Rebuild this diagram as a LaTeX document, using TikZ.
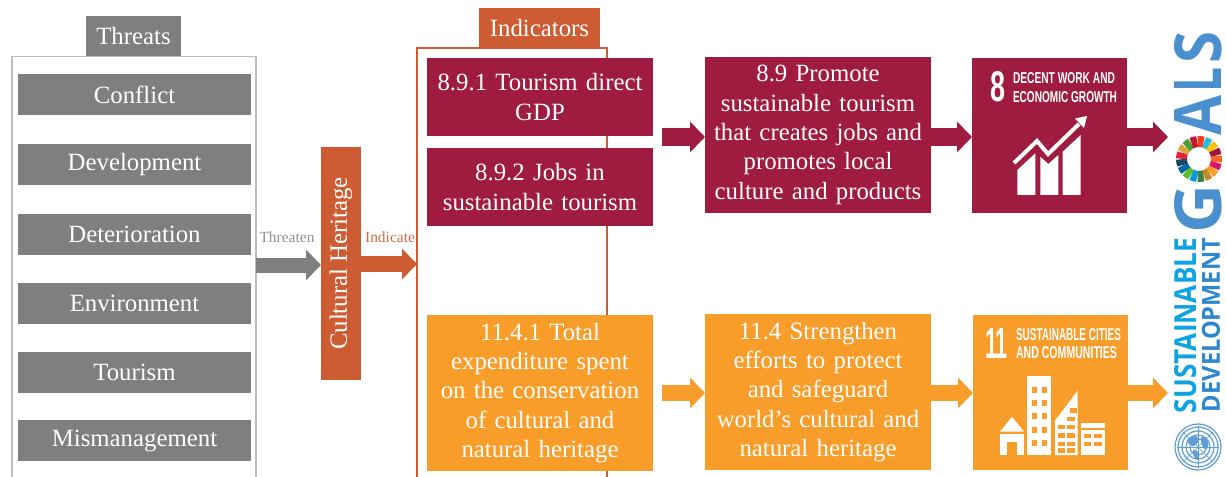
\documentclass[tikz,border=0pt]{standalone}
\usepackage{fontspec}
\setmainfont{Liberation Serif}
\newfontfamily\logofont{Open Sans}
\newfontfamily\sdgfont{Liberation Sans}
\usetikzlibrary{arrows.meta}
\definecolor{cgray}{HTML}{7F7F7F}
\definecolor{cgrayl}{HTML}{BDBDBD}
\definecolor{crust}{HTML}{CD5C33}
\definecolor{cmaroon}{HTML}{9F1B40}
\definecolor{camber}{HTML}{F99D2A}
\definecolor{cgoals}{HTML}{4A90CE}
\definecolor{csus}{HTML}{0FA3E0}
\definecolor{cdev}{HTML}{2E86CC}
\definecolor{cun}{HTML}{5E9DD8}
\definecolor{sdga}{HTML}{E5243B}\definecolor{sdgb}{HTML}{DDA63A}\definecolor{sdgc}{HTML}{4C9F38}
\definecolor{sdgd}{HTML}{C5192D}\definecolor{sdge}{HTML}{FF3A21}\definecolor{sdgf}{HTML}{26BDE2}
\definecolor{sdgg}{HTML}{FCC30B}\definecolor{sdgh}{HTML}{A21942}\definecolor{sdgi}{HTML}{FD6925}
\definecolor{sdgj}{HTML}{DD1367}\definecolor{sdgk}{HTML}{FD9D24}\definecolor{sdgl}{HTML}{BF8B2E}
\definecolor{sdgm}{HTML}{3F7E44}\definecolor{sdgn}{HTML}{0A97D9}\definecolor{sdgo}{HTML}{56C02B}
\definecolor{sdgp}{HTML}{00689D}\definecolor{sdgq}{HTML}{19486A}
\tikzset{
  x=0.75pt,y=-0.75pt,
  bodytext/.style={font=\fontsize{18.6pt}{22pt}\selectfont,text=white,align=center,inner sep=0pt,outer sep=0pt},
  barbox/.style={bodytext,fill=cgray,minimum width=174.75pt,minimum height=30.75pt},
  tag/.style={bodytext,minimum height=30pt},
  maroonbox/.style={bodytext,fill=cmaroon,text width=165pt,minimum width=169.5pt},
  amberbox/.style={bodytext,fill=camber,text width=165pt,minimum width=169.5pt,minimum height=117pt},
  sdgbox/.style={inner sep=0pt,outer sep=0pt,minimum width=116.25pt,minimum height=116.25pt},
  blockarrow/.style={line width=#1*0.75pt,-{Triangle[length=11.25pt,width=22.5pt]}},
  smalllabel/.style={font=\fontsize{11.6pt}{13pt}\selectfont,inner sep=0pt},
  fitted/.style={inner sep=0pt,outer sep=0pt,anchor=center},
}
\newcommand{\fitbox}[3]{\resizebox{\dimexpr#1pt*3/4\relax}{\dimexpr#2pt*3/4\relax}{#3}}
\begin{document}
\begin{tikzpicture}
\useasboundingbox (0,0) rectangle (1226,477);
% Threats
\node[draw=cgrayl,line width=1.1pt,inner sep=0pt,outer sep=0pt,minimum width=183pt,minimum height=318pt] (threats) at (134,268.5) {};
\node[tag,fill=cgray,minimum width=71.25pt] (threatstag) at (133.5,36) {Threats};
\node[barbox] (b1) at (134.5,94.5) {Conflict};
\node[barbox] (b2) at (134.5,164.5) {Development};
\node[barbox] (b3) at (134.5,234.5) {Deterioration};
\node[barbox] (b4) at (134.5,303.5) {Environment};
\node[barbox] (b5) at (134.5,372.5) {Tourism};
\node[barbox] (b6) at (134.5,440.5) {Mismanagement};
% Heritage
\node[bodytext,fill=crust,minimum width=174.75pt,minimum height=30pt,rotate=90] (heritage) at (341,263.5) {Cultural Heritage};
% Indicators
\node[draw=crust,line width=1.1pt,inner sep=0pt,outer sep=0pt,minimum width=142.5pt,minimum height=324pt] (indicators) at (512,264) {};
\node[tag,fill=crust,minimum width=90.75pt] (indtag) at (539.5,28) {Indicators};
\node[maroonbox,minimum height=58.5pt] (i1) at (540,97) {8.9.1 Tourism direct\\GDP};
\node[maroonbox,minimum height=58.5pt] (i2) at (540,187) {8.9.2 Jobs in\\sustainable tourism};
\node[amberbox] (i3) at (540,393) {11.4.1 Total\\expenditure spent\\on the conservation\\of cultural and\\natural heritage};
% Targets
\node[maroonbox,minimum height=117pt] (t1) at (818,135) {8.9 Promote\\sustainable tourism\\that creates jobs and\\promotes local\\culture and products};
\node[amberbox] (t2) at (818,392) {11.4 Strengthen\\efforts to protect\\and safeguard\\world’s cultural and\\natural heritage};
% SDG boxes
\node[sdgbox,fill=cmaroon] (g8) at (1049.5,135.5) {};
\node[sdgbox,fill=camber] (g11) at (1050.5,392.5) {};
% Logo anchor
\coordinate (logo) at (1168,265);
\coordinate (ra) at (0,265);
\coordinate (rb) at (0,264);
\coordinate (rm) at (0,137);
\coordinate (ro) at (0,393);
\coordinate (sm) at (662,137);
\coordinate (so) at (662,393);
% Arrows
\draw[blockarrow=15,cgray] (threats.east |- ra) -- (heritage.north |- ra);
\node[smalllabel,text=cgray!85] (threatenlabel) at (287,237) {Threaten};
\draw[blockarrow=15.5,crust] (heritage.south |- rb) -- (indicators.west |- rb);
\node[smalllabel,text=crust!90] (indicatelabel) at (390,237) {Indicate};
\draw[blockarrow=18,cmaroon] (sm) -- (t1.west |- rm);
\draw[blockarrow=18,cmaroon] (t1.east |- rm) -- (g8.west |- rm);
\draw[blockarrow=18,cmaroon] (g8.east |- rm) -- (logo |- rm);
\draw[blockarrow=16,camber] (so) -- (t2.west |- ro);
\draw[blockarrow=16,camber] (t2.east |- ro) -- (g11.west |- ro);
\draw[blockarrow=16,camber] (g11.east |- ro) -- (logo |- ro);
% SDG 8 tile text
\node[fitted,text=white] (n8) at (997.5,87) {\fitbox{15}{30}{\sdgfont\bfseries 8}};
\node[fitted,text=white] (n8a) at (1064,78) {\fitbox{102}{11}{\sdgfont\bfseries DECENT WORK AND}};
\node[fitted,text=white] (n8b) at (1065,97) {\fitbox{104}{11}{\sdgfont\bfseries ECONOMIC GROWTH}};
% SDG 8 icon
\fill[white] (1017.3,170) -- (1035.3,153.3) -- (1035.3,195) -- (1017.3,195) -- cycle;
\fill[white] (1040.3,156.7) -- (1048.3,164) -- (1058.3,155) -- (1058.3,195) -- (1040.3,195) -- cycle;
\fill[white] (1062.7,151.7) -- (1080.7,135) -- (1080.7,195) -- (1062.7,195) -- cycle;
\draw[white,line width=3pt] (1014,163) -- (1037,141) -- (1048,154) -- (1079,124);
\fill[white] (1087,116) -- (1075,118.5) -- (1084,128) -- cycle;
% SDG 11 tile text
\node[fitted,text=white] (n11) at (996.5,343) {\fitbox{23}{30}{\sdgfont\bfseries 11}};
\node[fitted,text=white] (n11a) at (1068.5,335) {\fitbox{105}{12}{\sdgfont\bfseries SUSTAINABLE CITIES}};
\node[fitted,text=white] (n11b) at (1066.5,353) {\fitbox{101}{12}{\sdgfont\bfseries AND COMMUNITIES}};
% SDG 11 icon
\begin{scope}[shift={(960,230)},x=0.25pt,y=-0.25pt]
  \fill[white] (120,605) -- (156,560) -- (192,605) -- cycle;
  \fill[white] (120,612) rectangle (192,675);
  \fill[camber] (140,637) rectangle (170,675);
  \fill[white] (202,438) rectangle (274,675);
  \foreach \wy in {470,510,550,590,630}{
    \fill[camber] (215,\wy) rectangle +(17,18);
    \fill[camber] (245,\wy) rectangle +(17,18);
  }
  \fill[white] (285,572) -- (353,482) -- (353,675) -- (285,675) -- cycle;
  \foreach \wy/\wx in {585/293,585/322,610/293,610/322,635/293,635/322,655/293,655/322,560/322,535/330}{
    \fill[camber] (\wx,\wy) rectangle +(22,13);
  }
  \fill[white] (362,578) rectangle (435,595);
  \fill[white] (362,600) rectangle (435,675);
  \foreach \wy in {612,637}{
    \fill[camber] (372,\wy) rectangle +(22,12);
    \fill[camber] (403,\wy) rectangle +(22,12);
  }
\end{scope}
% GOALS
\node[fitted,rotate=90,text=cgoals] (goalsS) at (1198,47.5) {\fitbox{32}{47}{\logofont\bfseries S}};
\node[fitted,rotate=90,text=cgoals] (goalsL) at (1198,79.5) {\fitbox{25}{47}{\logofont\bfseries L}};
\node[fitted,rotate=90,text=cgoals] (goalsA) at (1198,115) {\fitbox{40}{47}{\logofont\bfseries A}};
\node[fitted,rotate=90,text=cgoals] (goalsG) at (1198,209) {\fitbox{49}{47}{\logofont\bfseries G}};
% Wheel
\begin{scope}[shift={(1199,159)}]
  \foreach \c [count=\k from 0] in {a,b,c,d,e,f,g,h,i,j,k,l,m,n,o,p,q}{
    \pgfmathsetmacro{\aone}{180+\k*360/17+0.8}
    \pgfmathsetmacro{\atwo}{180+(\k+1)*360/17-0.8}
    \draw[color=sdg\c,line width=8.25pt] (\aone:17.5) arc[start angle=\aone,end angle=\atwo,radius=17.5];
  }
\end{scope}
% Sustainable Development
\node[fitted,rotate=90,text=csus] (sus) at (1186,325.5) {\fitbox{175}{22}{\logofont\bfseries SUSTAINABLE}};
\node[fitted,rotate=90,text=cdev] (dev) at (1211,325) {\fitbox{174}{18}{\logofont\bfseries DEVELOPMENT}};
% UN emblem
\begin{scope}[shift={(1198,447)}]
  \foreach \r in {8,12,16,20,23}{\draw[cun,line width=0.9pt] (0,0) circle[radius=\r];}
  \foreach \a in {0,45,...,315}{\draw[cun,line width=0.5pt] (0,0) -- (\a:21);}
  \fill[cun] (-11,-7) .. controls (-5,-14) and (2,-12) .. (0,-5) .. controls (-2,0) and (-8,2) .. (-11,-7) -- cycle;
  \fill[cun] (3,-10) .. controls (10,-11) and (12,-3) .. (9,2) .. controls (6,4) and (2,-3) .. (3,-10) -- cycle;
  \fill[cun] (-5,3) .. controls (0,2) and (3,8) .. (0,13) .. controls (-4,11) and (-6,7) .. (-5,3) -- cycle;
\end{scope}
\end{tikzpicture}
\end{document}
